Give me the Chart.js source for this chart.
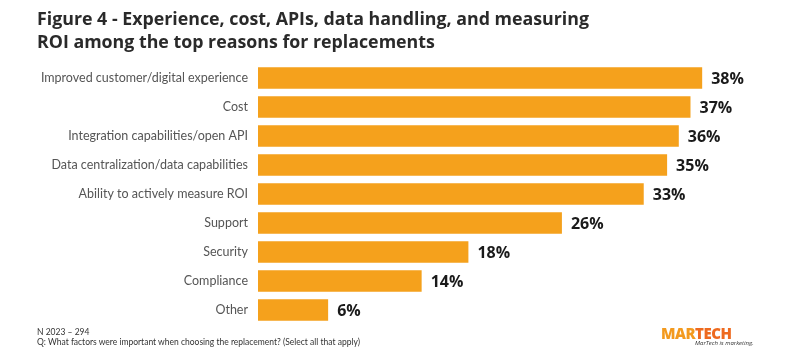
<!DOCTYPE html>
<html><head><meta charset="utf-8">
<script src="https://cdn.jsdelivr.net/npm/chart.js@4"></script>
<style>
html,body{margin:0;padding:0;background:#fff;width:800px;height:360px;overflow:hidden;}
#wrap{position:relative;width:800px;height:360px;}
#title{position:absolute;left:37px;top:7px;font-family:"Open Sans",sans-serif;font-weight:700;font-size:17.8px;line-height:23px;color:#2a2a2a;}
#foot{position:absolute;left:37px;top:327px;font-family:Lato,sans-serif;font-size:8.5px;line-height:10px;color:#333;}
#logo{position:absolute;left:661px;top:326px;font-family:"Open Sans",sans-serif;}
#logo .m{font-weight:800;font-size:15px;line-height:14px;letter-spacing:-0.5px;color:#F39A1E;}
#logo .m span{color:#EE6A1F;}
#logo .t{font-size:6px;line-height:7px;color:#333;margin-left:34px;font-style:italic;}
canvas{position:absolute;left:0;top:0;}
</style></head>
<body><div id="wrap">
<canvas id="c" width="800" height="360"></canvas>
<div id="title">Figure 4 - Experience, cost, APIs, data handling, and measuring<br>ROI among the top reasons for replacements</div>
<div id="foot">N 2023 – 294<br>Q: What factors were important when choosing the replacement? (Select all that apply)</div>
<div id="logo"><div class="m">MAR<span>TECH</span></div><div class="t">MarTech is marketing.</div></div>
</div>
<script>
const categories = ["Improved customer/digital experience","Cost","Integration capabilities/open API","Data centralization/data capabilities","Ability to actively measure ROI","Support","Security","Compliance","Other"];
const values = [38,37,36,35,33,26,18,14,6];

const valueLabels = {
  id:'valueLabels',
  afterDatasetsDraw(chart){
    const ctx = chart.ctx;
    const meta = chart.getDatasetMeta(0);
    ctx.save();
    ctx.font = '700 16px "Open Sans", sans-serif';
    ctx.fillStyle = '#1a1a1a';
    ctx.textBaseline = 'middle';
    ctx.textAlign = 'left';
    meta.data.forEach((bar,i)=>{
      ctx.fillText(values[i]+'%', bar.x + 9, bar.y + 1);
    });
    ctx.restore();
  }
};

new Chart(document.getElementById('c'),{
  type:'bar',
  data:{labels:categories,datasets:[{data:values,backgroundColor:'#F5A11C',borderWidth:0,barPercentage:0.74,categoryPercentage:1.0}]},
  options:{
    indexAxis:'y',
    responsive:false,
    animation:false,
    devicePixelRatio:1,
    layout:{padding:{top:63.5,bottom:35.5,left:0,right:16}},
    plugins:{legend:{display:false},tooltip:{enabled:false},title:{display:false}},
    scales:{
      x:{display:false,min:0,max:45},
      y:{
        grid:{display:false},
        border:{display:false},
        ticks:{color:'#555',font:{family:'Lato',size:12.5},padding:2},
        afterFit(scale){scale.width=258;}
      }
    }
  },
  plugins:[valueLabels]
});
</script>
</body></html>
